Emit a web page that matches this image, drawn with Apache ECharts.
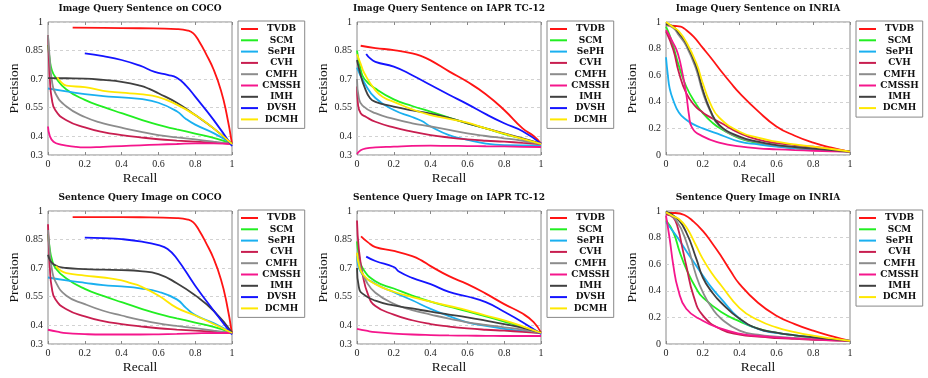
<!DOCTYPE html>
<html>
<head>
<meta charset="utf-8">
<script src="https://cdn.jsdelivr.net/npm/echarts@6/dist/echarts.min.js"></script>
<style>
  html, body { margin: 0; padding: 0; background: #fff; }
  #chart { width: 928px; height: 378px; }
</style>
</head>
<body>
<div id="chart"></div>
<script>
const methods = ["TVDB", "SCM", "SePH", "CVH", "CMFH", "CMSSH", "IMH", "DVSH", "DCMH"];
const methodsInria = ["TVDB", "SCM", "SePH", "CVH", "CMFH", "CMSSH", "IMH", "DCMH"];
const colors = {
  TVDB: "#ff1414", SCM: "#22ee22", SePH: "#1ab0f0", CVH: "#c81e50", CMFH: "#8c8c8c",
  CMSSH: "#f5168c", IMH: "#404040", DVSH: "#1414ff", DCMH: "#ffe800"
};
const titles = [
  "Image Query Sentence on COCO", "Image Query Sentence on IAPR TC-12", "Image Query Sentence on INRIA",
  "Sentence Query Image on COCO", "Sentence Query Image on IAPR TC-12", "Sentence Query Image on INRIA"
];
const recallTicks = [0, 0.2, 0.4, 0.6, 0.8, 1];
const precTicksHigh = [0.3, 0.4, 0.55, 0.7, 0.85, 1];
const precTicksLow = [0, 0.2, 0.4, 0.6, 0.8, 1];

// curves as [recall, precision], in the order of the legend
const imgCoco = [
  [[0.134,0.970],[0.3,0.969],[0.5,0.967],[0.7,0.963],[0.76,0.955],[0.79,0.94],[0.82,0.9],[0.86,0.83],[0.9,0.75],[0.94,0.64],[0.97,0.52],[1,0.36]],
  [[0,0.88],[0.01,0.8],[0.02,0.75],[0.04,0.71],[0.1,0.645],[0.2,0.59],[0.3,0.553],[0.4,0.52],[0.5,0.488],[0.6,0.458],[0.7,0.435],[0.8,0.413],[0.9,0.39],[1,0.36]],
  [[0,0.65],[0.1,0.635],[0.2,0.62],[0.3,0.61],[0.4,0.603],[0.5,0.595],[0.6,0.575],[0.7,0.53],[0.75,0.49],[0.8,0.46],[0.9,0.415],[1,0.36]],
  [[0,0.93],[0.005,0.8],[0.01,0.7],[0.02,0.6],[0.04,0.535],[0.1,0.483],[0.2,0.445],[0.3,0.42],[0.4,0.405],[0.5,0.393],[0.6,0.383],[0.7,0.376],[0.8,0.37],[0.9,0.365],[1,0.358]],
  [[0,0.93],[0.01,0.8],[0.02,0.7],[0.04,0.625],[0.1,0.555],[0.2,0.5],[0.3,0.467],[0.4,0.444],[0.5,0.423],[0.6,0.405],[0.7,0.393],[0.8,0.382],[0.9,0.37],[1,0.358]],
  [[0,0.45],[0.01,0.4],[0.03,0.37],[0.07,0.355],[0.15,0.343],[0.2,0.34],[0.3,0.343],[0.4,0.347],[0.5,0.351],[0.6,0.355],[0.7,0.358],[0.8,0.361],[0.9,0.361],[1,0.358]],
  [[0,0.705],[0.1,0.704],[0.2,0.702],[0.3,0.695],[0.4,0.685],[0.5,0.665],[0.55,0.648],[0.6,0.625],[0.7,0.575],[0.8,0.51],[0.9,0.44],[1,0.358]],
  [[0.2,0.835],[0.3,0.82],[0.4,0.8],[0.5,0.77],[0.58,0.738],[0.65,0.722],[0.7,0.707],[0.75,0.665],[0.8,0.607],[0.9,0.485],[1,0.347]],
  [[0.05,0.71],[0.07,0.685],[0.1,0.665],[0.2,0.657],[0.3,0.638],[0.4,0.628],[0.5,0.62],[0.6,0.605],[0.7,0.565],[0.8,0.51],[0.9,0.44],[1,0.358]]
];
const imgIapr = [
  [[0.02,0.875],[0.1,0.863],[0.2,0.852],[0.3,0.835],[0.35,0.82],[0.4,0.798],[0.5,0.74],[0.6,0.685],[0.7,0.62],[0.8,0.537],[0.9,0.44],[0.96,0.4],[1,0.36]],
  [[0,0.85],[0.02,0.75],[0.04,0.7],[0.1,0.65],[0.2,0.593],[0.3,0.558],[0.4,0.528],[0.5,0.497],[0.6,0.467],[0.7,0.44],[0.8,0.41],[0.9,0.385],[1,0.358]],
  [[0,0.76],[0.04,0.68],[0.1,0.6],[0.2,0.537],[0.3,0.5],[0.35,0.48],[0.4,0.45],[0.5,0.405],[0.6,0.38],[0.7,0.36],[0.8,0.352],[1,0.35]],
  [[0,0.66],[0.005,0.57],[0.02,0.52],[0.05,0.5],[0.1,0.475],[0.2,0.445],[0.3,0.423],[0.4,0.405],[0.5,0.392],[0.6,0.382],[0.7,0.375],[0.8,0.37],[0.9,0.364],[1,0.358]],
  [[0,0.7],[0.01,0.6],[0.03,0.56],[0.1,0.52],[0.2,0.49],[0.3,0.467],[0.4,0.45],[0.5,0.432],[0.6,0.414],[0.7,0.4],[0.8,0.388],[0.9,0.375],[1,0.36]],
  [[0,0.305],[0.02,0.325],[0.05,0.335],[0.1,0.34],[0.2,0.344],[0.3,0.348],[0.4,0.349],[0.5,0.348],[0.6,0.347],[0.7,0.346],[0.8,0.345],[0.9,0.343],[1,0.342]],
  [[0,0.8],[0.02,0.72],[0.04,0.66],[0.07,0.6],[0.1,0.58],[0.2,0.555],[0.3,0.535],[0.4,0.518],[0.5,0.495],[0.6,0.467],[0.7,0.44],[0.8,0.414],[0.9,0.387],[1,0.36]],
  [[0.05,0.832],[0.07,0.81],[0.1,0.79],[0.2,0.765],[0.3,0.72],[0.4,0.668],[0.5,0.617],[0.6,0.568],[0.7,0.515],[0.8,0.467],[0.9,0.425],[1,0.36]],
  [[0,0.83],[0.02,0.78],[0.04,0.73],[0.1,0.64],[0.15,0.6],[0.2,0.58],[0.3,0.54],[0.4,0.51],[0.5,0.49],[0.6,0.47],[0.7,0.44],[0.8,0.412],[0.9,0.385],[1,0.358]]
];
const imgInria = [
  [[0,0.975],[0.05,0.97],[0.08,0.965],[0.1,0.95],[0.15,0.89],[0.2,0.805],[0.25,0.72],[0.3,0.63],[0.35,0.545],[0.4,0.465],[0.5,0.33],[0.6,0.215],[0.7,0.145],[0.8,0.093],[0.9,0.055],[1,0.023]],
  [[0,0.965],[0.02,0.9],[0.04,0.815],[0.07,0.67],[0.11,0.515],[0.16,0.39],[0.2,0.315],[0.25,0.245],[0.3,0.195],[0.4,0.125],[0.5,0.09],[0.6,0.066],[0.7,0.05],[0.8,0.04],[0.9,0.032],[1,0.025]],
  [[0,0.735],[0.01,0.6],[0.02,0.5],[0.04,0.41],[0.07,0.32],[0.11,0.265],[0.15,0.23],[0.2,0.2],[0.3,0.15],[0.4,0.1],[0.5,0.08],[0.6,0.063],[0.7,0.05],[0.8,0.04],[0.9,0.032],[1,0.025]],
  [[0,0.93],[0.04,0.79],[0.07,0.62],[0.11,0.465],[0.16,0.365],[0.2,0.32],[0.22,0.3],[0.3,0.24],[0.4,0.165],[0.5,0.115],[0.6,0.09],[0.7,0.075],[0.8,0.062],[0.9,0.045],[1,0.025]],
  [[0,0.98],[0.04,0.955],[0.07,0.9],[0.11,0.82],[0.165,0.64],[0.2,0.47],[0.24,0.33],[0.29,0.22],[0.4,0.13],[0.5,0.095],[0.6,0.072],[0.7,0.058],[0.8,0.046],[0.9,0.035],[1,0.025]],
  [[0,0.94],[0.04,0.84],[0.065,0.76],[0.09,0.61],[0.11,0.46],[0.125,0.3],[0.14,0.21],[0.2,0.14],[0.3,0.09],[0.4,0.065],[0.5,0.05],[0.6,0.043],[0.7,0.037],[0.8,0.032],[0.9,0.028],[1,0.025]],
  [[0,0.985],[0.04,0.965],[0.07,0.915],[0.11,0.84],[0.165,0.665],[0.2,0.49],[0.24,0.34],[0.29,0.225],[0.4,0.138],[0.5,0.1],[0.6,0.075],[0.7,0.06],[0.8,0.048],[0.9,0.036],[1,0.025]],
  [[0,1.0],[0.04,0.96],[0.07,0.93],[0.11,0.85],[0.165,0.69],[0.2,0.54],[0.24,0.39],[0.29,0.28],[0.4,0.175],[0.5,0.13],[0.6,0.1],[0.7,0.08],[0.8,0.063],[0.9,0.045],[1,0.025]]
];
const txtCoco = [
  [[0.134,0.968],[0.3,0.968],[0.5,0.967],[0.7,0.963],[0.76,0.955],[0.79,0.94],[0.82,0.9],[0.86,0.83],[0.9,0.75],[0.94,0.64],[0.97,0.52],[1,0.355]],
  [[0,0.88],[0.01,0.8],[0.02,0.75],[0.04,0.7],[0.1,0.645],[0.2,0.59],[0.3,0.553],[0.4,0.52],[0.5,0.488],[0.6,0.458],[0.7,0.435],[0.8,0.413],[0.9,0.39],[1,0.36]],
  [[0,0.65],[0.1,0.635],[0.2,0.622],[0.3,0.61],[0.4,0.603],[0.5,0.593],[0.6,0.575],[0.7,0.535],[0.75,0.49],[0.8,0.452],[0.9,0.41],[1,0.358]],
  [[0,0.93],[0.005,0.8],[0.01,0.7],[0.02,0.6],[0.04,0.535],[0.1,0.483],[0.2,0.445],[0.3,0.42],[0.4,0.405],[0.5,0.393],[0.6,0.383],[0.7,0.376],[0.8,0.37],[0.9,0.365],[1,0.358]],
  [[0,0.9],[0.01,0.78],[0.02,0.7],[0.04,0.63],[0.1,0.554],[0.2,0.51],[0.3,0.475],[0.4,0.45],[0.5,0.427],[0.6,0.408],[0.7,0.395],[0.8,0.383],[0.9,0.37],[1,0.358]],
  [[0,0.375],[0.05,0.365],[0.1,0.357],[0.2,0.352],[0.3,0.35],[0.4,0.35],[0.5,0.35],[0.6,0.351],[0.7,0.353],[0.8,0.356],[0.9,0.358],[1,0.358]],
  [[0,0.77],[0.03,0.72],[0.1,0.7],[0.2,0.694],[0.3,0.691],[0.4,0.689],[0.5,0.684],[0.6,0.668],[0.7,0.62],[0.8,0.556],[0.9,0.475],[1,0.36]],
  [[0.2,0.86],[0.3,0.857],[0.4,0.852],[0.5,0.84],[0.6,0.82],[0.65,0.8],[0.7,0.75],[0.8,0.607],[0.9,0.476],[1,0.35]],
  [[0.043,0.71],[0.07,0.685],[0.1,0.673],[0.2,0.66],[0.3,0.65],[0.4,0.635],[0.45,0.62],[0.5,0.605],[0.6,0.555],[0.7,0.49],[0.8,0.45],[0.9,0.405],[1,0.358]]
];
const txtIapr = [
  [[0.022,0.867],[0.06,0.835],[0.1,0.81],[0.2,0.79],[0.3,0.762],[0.35,0.74],[0.4,0.71],[0.5,0.657],[0.6,0.615],[0.7,0.565],[0.8,0.51],[0.9,0.46],[0.96,0.415],[1,0.36]],
  [[0,0.84],[0.01,0.77],[0.03,0.7],[0.1,0.63],[0.2,0.592],[0.3,0.555],[0.4,0.523],[0.5,0.497],[0.6,0.472],[0.7,0.445],[0.8,0.418],[0.9,0.39],[1,0.358]],
  [[0,0.765],[0.02,0.68],[0.1,0.617],[0.2,0.573],[0.3,0.53],[0.4,0.485],[0.5,0.447],[0.6,0.414],[0.7,0.395],[0.8,0.38],[0.9,0.368],[1,0.358]],
  [[0,0.95],[0.01,0.8],[0.03,0.67],[0.06,0.56],[0.1,0.5],[0.2,0.455],[0.3,0.425],[0.4,0.405],[0.5,0.392],[0.6,0.382],[0.7,0.375],[0.8,0.37],[0.9,0.364],[1,0.358]],
  [[0,0.78],[0.02,0.7],[0.05,0.63],[0.1,0.57],[0.2,0.512],[0.3,0.478],[0.4,0.455],[0.5,0.433],[0.6,0.414],[0.7,0.4],[0.8,0.388],[0.9,0.375],[1,0.36]],
  [[0,0.38],[0.05,0.37],[0.1,0.362],[0.2,0.355],[0.3,0.35],[0.4,0.347],[0.5,0.345],[0.6,0.344],[0.7,0.343],[0.8,0.342],[0.9,0.342],[1,0.342]],
  [[0,0.7],[0.01,0.6],[0.03,0.565],[0.1,0.528],[0.2,0.503],[0.3,0.487],[0.4,0.47],[0.5,0.455],[0.6,0.44],[0.7,0.423],[0.8,0.405],[0.9,0.385],[1,0.36]],
  [[0.05,0.76],[0.1,0.737],[0.2,0.705],[0.23,0.68],[0.3,0.648],[0.4,0.615],[0.5,0.574],[0.6,0.55],[0.7,0.52],[0.8,0.47],[0.9,0.415],[1,0.353]],
  [[0,0.78],[0.01,0.72],[0.03,0.67],[0.1,0.615],[0.2,0.575],[0.3,0.547],[0.4,0.523],[0.5,0.5],[0.6,0.477],[0.7,0.45],[0.8,0.424],[0.9,0.393],[1,0.358]]
];
const txtInria = [
  [[0,0.985],[0.05,0.985],[0.1,0.97],[0.15,0.92],[0.2,0.85],[0.25,0.76],[0.3,0.66],[0.35,0.55],[0.4,0.45],[0.5,0.31],[0.6,0.213],[0.7,0.15],[0.8,0.1],[0.9,0.06],[1,0.023]],
  [[0,0.93],[0.04,0.84],[0.075,0.69],[0.11,0.565],[0.165,0.415],[0.2,0.35],[0.3,0.24],[0.4,0.17],[0.5,0.115],[0.6,0.085],[0.7,0.065],[0.8,0.05],[0.9,0.036],[1,0.023]],
  [[0,0.915],[0.055,0.815],[0.11,0.7],[0.2,0.515],[0.25,0.42],[0.3,0.34],[0.4,0.19],[0.5,0.113],[0.6,0.083],[0.7,0.065],[0.8,0.05],[0.9,0.036],[1,0.023]],
  [[0,0.975],[0.04,0.95],[0.065,0.87],[0.09,0.715],[0.11,0.59],[0.15,0.36],[0.2,0.215],[0.3,0.11],[0.4,0.07],[0.5,0.055],[0.6,0.045],[0.7,0.038],[0.8,0.032],[0.9,0.027],[1,0.023]],
  [[0,0.99],[0.055,0.93],[0.11,0.77],[0.165,0.51],[0.2,0.39],[0.25,0.27],[0.3,0.19],[0.4,0.1],[0.5,0.07],[0.6,0.055],[0.7,0.045],[0.8,0.037],[0.9,0.03],[1,0.023]],
  [[0,0.965],[0.02,0.79],[0.04,0.59],[0.065,0.415],[0.11,0.265],[0.2,0.175],[0.3,0.115],[0.4,0.078],[0.5,0.06],[0.6,0.05],[0.7,0.042],[0.8,0.035],[0.9,0.028],[1,0.023]],
  [[0,0.995],[0.055,0.95],[0.11,0.84],[0.165,0.64],[0.2,0.5],[0.25,0.39],[0.3,0.31],[0.4,0.19],[0.5,0.115],[0.6,0.085],[0.7,0.065],[0.8,0.05],[0.9,0.036],[1,0.023]],
  [[0,0.99],[0.04,0.96],[0.07,0.94],[0.11,0.88],[0.16,0.75],[0.2,0.64],[0.25,0.53],[0.3,0.44],[0.4,0.27],[0.5,0.18],[0.6,0.125],[0.7,0.09],[0.8,0.063],[0.9,0.042],[1,0.023]]
];

const panelCurves = [imgCoco, imgIapr, imgInria, txtCoco, txtIapr, txtInria];
const panelNames = [methods, methods, methodsInria, methods, methods, methodsInria];
const panelTicks = [precTicksHigh, precTicksHigh, precTicksLow, precTicksHigh, precTicksHigh, precTicksLow];

const serif = "Liberation Serif";
const boldSerif = "DejaVu Serif";
const plotLeft = [48, 357, 666];
const plotTop = [22, 211];
const plotW = 184, plotH = 133;
const legendLeft = [238, 547, 856];

const grid = [], xAxis = [], yAxis = [], title = [], legend = [], series = [];

panelCurves.forEach((curves, i) => {
  const row = Math.floor(i / 3), col = i % 3;
  const ticks = panelTicks[i];
  grid.push({
    left: plotLeft[col], top: plotTop[row], width: plotW, height: plotH,
    show: true, borderColor: "#8a8a8a", borderWidth: 1
  });
  xAxis.push({
    gridIndex: i, type: "value", min: 0, max: 1, interval: 0.2,
    name: "Recall", nameLocation: "middle", nameGap: 16,
    nameTextStyle: { fontFamily: serif, fontSize: 13.5, color: "#111" },
    axisLine: { show: false },
    axisTick: { inside: true, length: 3, lineStyle: { color: "#888" }, customValues: recallTicks },
    axisLabel: { margin: 4, fontFamily: serif, fontSize: 10, color: "#222", customValues: recallTicks },
    splitLine: { show: false }
  });
  yAxis.push({
    gridIndex: i, type: "value", min: ticks[0], max: 1,
    name: "Precision", nameLocation: "middle", nameGap: 27, nameRotate: 90,
    nameTextStyle: { fontFamily: serif, fontSize: 13.5, color: "#111" },
    axisLine: { show: false },
    axisTick: { show: false, customValues: ticks },
    axisLabel: { margin: 5, fontFamily: serif, fontSize: 10, color: "#222", customValues: ticks },
    splitLine: { show: true, lineStyle: { color: "#d2d2d2", type: [3, 3], width: 1 } }
  });
  title.push({
    text: titles[i], left: plotLeft[col] + plotW / 2, top: plotTop[row] - 18, textAlign: "center", padding: 0,
    textStyle: { fontFamily: boldSerif, fontWeight: "bold", fontSize: 9, color: "#111" }
  });
  legend.push({
    orient: "vertical", left: legendLeft[col], top: plotTop[row] - 1,
    data: panelNames[i], selectedMode: false, icon: "rect",
    itemWidth: 17, itemHeight: 2, itemGap: 1.3,
    padding: [3, 4, 4, 3], borderColor: "#888", borderWidth: 1,
    formatter: n => "{c|" + n + "}",
    textStyle: {
      rich: { c: { width: 37, height: 10, lineHeight: 10, align: "center", fontFamily: boldSerif, fontWeight: "bold", fontSize: 9, color: "#111" } }
    }
  });
  curves.forEach((pts, j) => {
    const name = panelNames[i][j];
    series.push({
      type: "line", name: name, xAxisIndex: i, yAxisIndex: i, data: pts,
      symbol: "none", showSymbol: false, smooth: 0.5,
      lineStyle: { width: 1.8, color: colors[name] }, itemStyle: { color: colors[name] },
      emphasis: { disabled: true }, silent: true
    });
  });
});

// inner ticks along the top edge of each plot
panelCurves.forEach((c, i) => {
  xAxis.push({
    gridIndex: i, type: "value", position: "top", min: 0, max: 1, interval: 0.2,
    axisLine: { show: false },
    axisTick: { inside: true, length: 3, lineStyle: { color: "#888" } },
    axisLabel: { show: false }, splitLine: { show: false }
  });
});

const chart = echarts.init(document.getElementById("chart"), null, { renderer: "canvas" });
chart.setOption({ animation: false, backgroundColor: "#fff", title, legend, grid, xAxis, yAxis, series });
</script>
</body>
</html>
